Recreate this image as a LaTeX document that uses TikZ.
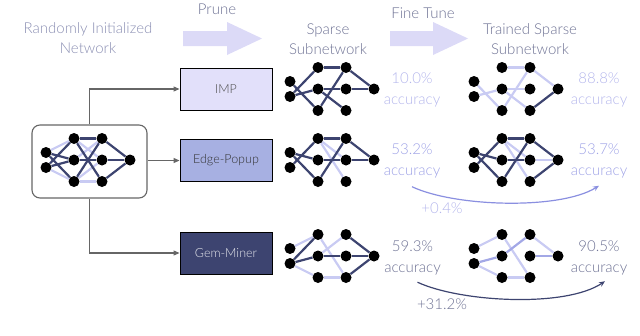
\documentclass[tikz,border=0pt]{standalone}
\usepackage{fontspec}
\setmainfont{Lato Light}
\usetikzlibrary{arrows.meta}
\definecolor{navy}{HTML}{3D4470}
\definecolor{lightedge}{HTML}{C9CBF3}
\definecolor{midedge}{HTML}{A3A8E6}
\definecolor{bigarrow}{HTML}{DCDAF7}
\definecolor{impfill}{HTML}{E2E0FA}
\definecolor{edgefill}{HTML}{A7B0E2}
\definecolor{hdrtext}{HTML}{8B8FB3}
\definecolor{darktext}{HTML}{6E7294}
\definecolor{lavtext}{HTML}{B4B6EC}
\definecolor{peritext}{HTML}{9EA2E6}
\definecolor{peri}{HTML}{8A8FE0}
\definecolor{conngray}{HTML}{666666}
\newcommand\mknet[3]{%
  \node[nd] (#1i1) at ({#2},{#3-7.5}) {};
  \node[nd] (#1i2) at ({#2},{#3+7.5}) {};
  \node[nd] (#1a1) at ({#2+28},{#3-21.5}) {};
  \node[nd] (#1a2) at ({#2+28},{#3}) {};
  \node[nd] (#1a3) at ({#2+28},{#3+21.5}) {};
  \node[nd] (#1b1) at ({#2+56},{#3-21.5}) {};
  \node[nd] (#1b2) at ({#2+56},{#3}) {};
  \node[nd] (#1b3) at ({#2+56},{#3+21.5}) {};
  \node[nd] (#1o) at ({#2+84},{#3}) {};
}
\newcommand\edg[3]{\foreach \u/\v in {#3}{\draw[#2] (#1\u) -- (#1\v);}}
\begin{document}
\begin{tikzpicture}[x=1pt,y=-1pt,
  nd/.style={circle,fill=black,inner sep=0pt,minimum size=11pt},
  dk/.style={navy,line width=2.2pt},
  lt/.style={lightedge,line width=2.2pt},
  md/.style={midedge,line width=2.2pt},
  method/.style={draw=black,line width=0.9pt,minimum width=92pt,minimum height=42pt,inner sep=0pt,font=\fontsize{12.5}{14}\selectfont},
  hdr/.style={align=center,font=\fontsize{15}{20}\selectfont},
  acc/.style={align=center,font=\fontsize{15}{21}\selectfont},
  conn/.style={conngray,line width=1.1pt,-{Triangle[length=6pt,width=5pt]}},
]
\useasboundingbox (0,0) rectangle (640,335);
% big arrows
\fill[bigarrow] (183,31) -- (227,31) -- (227,22) -- (262,38.5) -- (227,55) -- (227,46) -- (183,46) -- cycle;
\fill[bigarrow] (390,31) -- (433,31) -- (433,22) -- (468,38.5) -- (433,55) -- (433,46) -- (390,46) -- cycle;
% headers
\node[hdr,text=hdrtext] (h0) at (88,38) {Randomly Initialized\\Network};
\node[hdr,text=darktext] (hp) at (217,9) {Prune};
\node[hdr,text=darktext] (h1) at (328,39) {Sparse\\Subnetwork};
\node[hdr,text=darktext] (hf) at (423,13) {Fine Tune};
\node[hdr,text=darktext] (h2) at (530,39) {Trained Sparse\\Subnetwork};
% initial box
\node[draw=conngray,line width=1.1pt,rounded corners=8pt,minimum width=115pt,minimum height=73pt] (init) at (89.5,161.5) {};
% method boxes
\node[method,fill=impfill,text=black!70] (imp) at (226,89) {IMP};
\node[method,fill=edgefill,text=black!80] (edge) at (226,160.5) {Edge-Popup};
\node[method,fill=navy,text=white!88!navy] (gem) at (226,253) {Gem-Miner};
% connectors
\draw[conn] (init.north) |- (imp.west);
\draw[conn] (init.east |- edge.west) -- (edge.west);
\draw[conn] (init.south) |- (gem.west);
% networks
\mknet{n0}{46}{160}
\edg{n0}{lt}{i1/a1,i2/a3,a1/b2,a2/b1,a3/b2,a3/b3}
\edg{n0}{dk}{i1/a2,i1/a3,i2/a1,i2/a2,a1/b1,a1/b3,a2/b2,a3/b1,b1/o,b2/o,b3/o}
\mknet{s1}{290}{89}
\edg{s1}{dk}{i2/a1,i1/a3,i2/a2,a1/b1,a2/b2,a3/b1,a2/b3,b1/o,b2/o}
\mknet{t1}{474}{89}
\edg{t1}{lt}{i1/a3,i2/a2,a1/b1,a2/b2,a3/b1,a2/b3,b1/o}
\edg{t1}{dk}{b3/o}
\mknet{s2}{290}{160}
\edg{s2}{lt}{a1/b3,a1/b2}
\edg{s2}{dk}{i1/a2,i1/a3,i2/a1,a1/b1,a2/b2,a3/b1,b1/o,b2/o}
\mknet{t2}{474}{160}
\edg{t2}{lt}{a1/b3,a1/b2,b2/o}
\edg{t2}{dk}{i1/a2,i1/a3,i2/a1,a1/b1,a2/b2,a3/b1,b1/o,b3/o}
\mknet{s3}{290}{256}
\edg{s3}{lt}{i1/a1,i2/a3,a2/b1,a1/b3,a3/b3}
\edg{s3}{dk}{i2/a1,i2/a2,a2/b2,b1/o,b2/o,b3/o}
\mknet{t3}{474}{256}
\edg{t3}{lt}{i1/a1,i2/a3,a1/b3,a3/b3,b1/o}
\edg{t3}{md}{i2/a2,a2/b1,b2/o}
% accuracy labels
\node[acc,text=lavtext] (acc1l) at (412,90) {10.0\%\\accuracy};
\node[acc,text=lavtext] (acc1r) at (599,90) {88.8\%\\accuracy};
\node[acc,text=peritext] (acc2l) at (412,161) {53.2\%\\accuracy};
\node[acc,text=peritext] (acc2r) at (599,161) {53.7\%\\accuracy};
\node[acc,text=darktext] (acc3l) at (412.5,257.5) {59.3\%\\accuracy};
\node[acc,text=darktext] (acc3r) at (599,257.5) {90.5\%\\accuracy};
% gain arrows
\draw[peri,line width=1.2pt,-{Stealth[length=6pt,width=5pt]}] ([yshift=-5pt]acc2l.south) .. controls (455,207) and (560,210) .. ([yshift=-4pt]acc2r.south);
\node[acc,text=lavtext] (g1) at (442,208) {+0.4\%};
\draw[navy,line width=1.2pt,-{Stealth[length=6pt,width=5pt]}] ([xshift=5pt,yshift=-4pt]acc3l.south) .. controls (460,302) and (565,308) .. ([xshift=6pt,yshift=-3pt]acc3r.south);
\node[acc,text=darktext] (g2) at (442,304) {+31.2\%};
\end{tikzpicture}
\end{document}
